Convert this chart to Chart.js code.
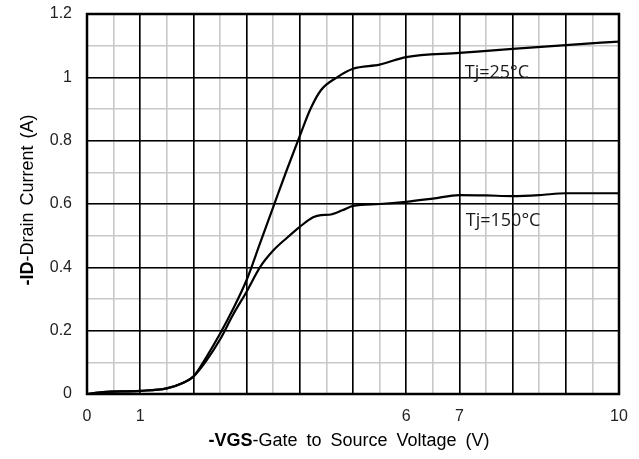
<!DOCTYPE html>
<html><head><meta charset="utf-8">
<style>html,body{margin:0;padding:0;background:#fff}#wrap{width:639px;height:459px}</style>
<script src="https://cdn.jsdelivr.net/npm/chart.js@4.4.0/dist/chart.umd.min.js"></script>
</head><body><div id="wrap"><canvas id="c" width="639" height="459"></canvas></div>
<script>
// ---- data ----
const vgs25 = [0, 0.3, 1, 1.5, 1.8, 2, 2.25, 2.5, 2.75, 3, 3.25, 3.5, 3.75, 4, 4.2, 4.4, 4.7, 5, 5.5, 6, 7, 8, 9, 10];
const id25  = [0, 0.006, 0.01, 0.018, 0.035, 0.055, 0.118, 0.19, 0.27, 0.36, 0.475, 0.59, 0.705, 0.815, 0.9, 0.96, 1.0, 1.027, 1.04, 1.064, 1.077, 1.09, 1.102, 1.113];
const vgs150 = [0, 0.3, 1, 1.5, 1.8, 2, 2.25, 2.5, 2.75, 3, 3.25, 3.5, 3.75, 4, 4.25, 4.4, 4.55, 4.8, 5, 5.5, 6, 6.5, 7, 7.5, 8, 8.5, 9, 10];
const id150  = [0, 0.006, 0.01, 0.018, 0.035, 0.055, 0.107, 0.172, 0.252, 0.323, 0.4, 0.453, 0.492, 0.528, 0.558, 0.565, 0.566, 0.58, 0.594, 0.6, 0.607, 0.617, 0.628, 0.627, 0.625, 0.628, 0.634, 0.634];
const seriesNames = ['Tj=25°C', 'Tj=150°C'];
const xTickLabels = [0, 1, 6, 7, 10];
const yTickLabels = ['0', '0.2', '0.4', '0.6', '0.8', '1', '1.2'];
const xTitle = ['-VGS', '-Gate to Source Voltage (V)'];
const yTitle = ['-ID', '-Drain Current (A)'];

const pts = (xs, ys) => xs.map((x, i) => ({x, y: ys[i]}));
const GREY = '#c8c8c8';
const FONT = '"Liberation Sans", Arial, sans-serif';

function drawTwoPart(ctx, parts, size, spacing, cx, y) {
  ctx.font = 'bold ' + size + 'px ' + FONT; ctx.wordSpacing = '0px';
  const w1 = ctx.measureText(parts[0]).width;
  ctx.font = size + 'px ' + FONT; ctx.wordSpacing = spacing;
  const w2 = ctx.measureText(parts[1]).width;
  const sx = cx - (w1 + w2) / 2;
  ctx.font = 'bold ' + size + 'px ' + FONT; ctx.wordSpacing = '0px';
  ctx.fillText(parts[0], sx, y);
  ctx.font = size + 'px ' + FONT; ctx.wordSpacing = spacing;
  ctx.fillText(parts[1], sx + w1, y);
  ctx.wordSpacing = '0px';
}

const frame = {
  id: 'frame',
  afterDraw(chart) {
    const {ctx, chartArea: a, scales} = chart;
    ctx.save();
    ctx.strokeStyle = '#000'; ctx.lineWidth = 2.5;
    ctx.strokeRect(a.left, a.top, a.right - a.left, a.bottom - a.top);
    // series annotations
    ctx.fillStyle = '#1a1a1a';
    ctx.font = '18px "Open Sans", sans-serif';
    ctx.textBaseline = 'middle'; ctx.textAlign = 'left';
    chart.options.plugins.frame.labels.forEach((l, i) => {
      ctx.fillText(seriesNames[i], scales.x.getPixelForValue(l.x), scales.y.getPixelForValue(l.y));
    });
    // axis titles
    ctx.fillStyle = '#000';
    ctx.textBaseline = 'alphabetic'; ctx.textAlign = 'left';
    drawTwoPart(ctx, xTitle, 18, '4px', (a.left + a.right) / 2 - 4, 446);
    ctx.translate(33, (a.top + a.bottom) / 2 - 4);
    ctx.rotate(-Math.PI / 2);
    drawTwoPart(ctx, yTitle, 18, '2px', 0, 0);
    ctx.restore();
  }
};

const hiddenAxis = (axis, step, max) => ({
  type: 'linear', axis, min: 0, max, position: axis === 'x' ? 'bottom' : 'left',
  ticks: {display: false, stepSize: step},
  grid: {color: GREY, lineWidth: 1.6, drawTicks: false, z: -2},
  border: {display: false},
  afterFit(s) { if (axis === 'x') s.height = 0; else s.width = 0; s.paddingTop = 0; s.paddingBottom = 0; s.paddingLeft = 0; s.paddingRight = 0; }
});

new Chart(document.getElementById('c'), {
  type: 'scatter',
  data: {
    datasets: [
      {label: seriesNames[0], data: pts(vgs25, id25), showLine: true, borderColor: '#000', borderWidth: 2.2, pointRadius: 0, cubicInterpolationMode: 'monotone'},
      {label: seriesNames[1], data: pts(vgs150, id150), showLine: true, borderColor: '#000', borderWidth: 2.2, pointRadius: 0, cubicInterpolationMode: 'monotone'}
    ]
  },
  options: {
    responsive: false, animation: false,
    layout: {padding: {left: 0, right: 20, top: 14, bottom: 0}},
    plugins: {
      legend: {display: false}, tooltip: {enabled: false},
      frame: {labels: [{x: 7.1, y: 1.015}, {x: 7.12, y: 0.547}]}
    },
    scales: {
      xm: hiddenAxis('x', 0.5, 10),
      ym: hiddenAxis('y', 0.1, 1.2),
      x: {
        type: 'linear', min: 0, max: 10, position: 'bottom',
        ticks: {
          stepSize: 1, autoSkip: false, maxRotation: 0, padding: 13,
          color: '#222', font: {family: FONT, size: 16},
          callback: v => xTickLabels.includes(v) ? String(v) : ''
        },
        grid: {color: '#000', lineWidth: 1.6, drawTicks: false, z: -1},
        border: {display: false},
        afterFit(s) { s.height = 65; s.paddingLeft = 0; s.paddingRight = 0; }
      },
      y: {
        type: 'linear', min: 0, max: 1.2, position: 'left',
        ticks: {
          stepSize: 0.2, autoSkip: false, padding: 15,
          color: '#222', font: {family: FONT, size: 16},
          callback: (v, i) => yTickLabels[i] !== undefined ? yTickLabels[i] : ''
        },
        grid: {color: '#000', lineWidth: 1.6, drawTicks: false, z: -1},
        border: {display: false},
        afterFit(s) { s.width = 87; s.paddingTop = 0; s.paddingBottom = 0; }
      }
    }
  },
  plugins: [frame]
});
</script></body></html>
